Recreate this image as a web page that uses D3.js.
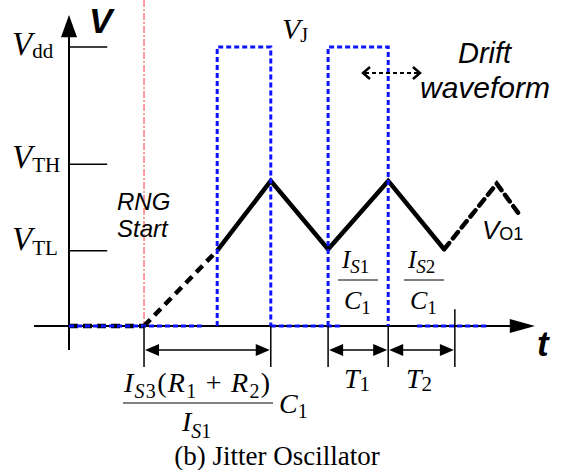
<!DOCTYPE html>
<html>
<head>
<meta charset="utf-8">
<script src="https://cdn.jsdelivr.net/npm/d3@7"></script>
<style>
body{margin:0;background:#fff}
text{fill:#000}
</style>
</head>
<body>
<svg id="chart" width="563" height="470"></svg>
<script>
// voltage levels (Vdd = 1)
const levelNames=["V","V","V"];
const levelSubs=["dd","TH","TL"];
const levelValues=[1,0.58,0.27];

// VO1 waveform, time in arbitrary units (0 = V axis)
const flatT=[0,16.1],flatV=[0,0];
const riseT=[16.1,31.8],riseV=[0,0.27];
const solidT=[31.8,43.3,55.6,68.5,80.5];
const solidV=[0.27,0.52,0.275,0.52,0.275];
const tailT=[80.5,91.8,96.4];
const tailV=[0.275,0.51,0.405];

// VJ pulses (high intervals) and blue stretches on the baseline
const pulseStart=[31.8,55.6];
const pulseEnd=[43.3,68.5];
const blueStart=[0,43.3,74.7];
const blueEnd=[28.5,58.2,90];

// dimension arrows under the t axis
const dimFrom=[16.1,55.6,68.5];
const dimTo=[43.3,68.5,82.8];
const startT=16.1;

let svg=d3.select("#chart");
let x=d3.scaleLinear().domain([0,100]).range([69,535]);
let y=d3.scaleLinear().domain([0,1]).range([326,47]);
let line=d3.line().x(d=>x(d[0])).y(d=>y(d[1]));
const zip=(a,b)=>a.map((d,i)=>[d,b[i]]);

// RNG start marker (red dash dot)
svg.append("line")
	.attr("x1",x(startT)).attr("x2",x(startT))
	.attr("y1",0).attr("y2",y(0))
	.attr("stroke","#ff3b3b").attr("stroke-width",1)
	.attr("stroke-dasharray","7,2,2,2")

// axes
svg.append("line").attr("x1",x(-7.5)).attr("x2",x(96)).attr("y1",y(0)).attr("y2",y(0))
	.attr("stroke","#000").attr("stroke-width",2)
svg.append("path")
	.attr("d",`M${x(100)},${y(0)} L${x(94.6)},${y(0)-7} L${x(94.6)},${y(0)+7} Z`)
	.attr("fill","#000")
svg.append("line").attr("x1",x(0)).attr("x2",x(0)).attr("y1",y(-0.086)).attr("y2",y(1.04))
	.attr("stroke","#000").attr("stroke-width",2)
svg.append("path")
	.attr("d",`M${x(0)},${y(1.115)} L${x(0)-8},${y(1.035)} L${x(0)+8},${y(1.035)} Z`)
	.attr("fill","#000")

// level ticks
svg.selectAll(".lvl").data(levelValues).enter().append("line")
	.attr("x1",x(0)).attr("x2",x(8.2))
	.attr("y1",d=>y(d)).attr("y2",d=>y(d))
	.attr("stroke","#000").attr("stroke-width",1.5)

// VO1 waveform
svg.append("path").attr("d",line(zip(flatT,flatV)))
	.attr("fill","none").attr("stroke","#000").attr("stroke-width",4.5)
	.attr("stroke-dasharray","9,5")
svg.append("path").attr("d",line(zip(riseT,riseV)))
	.attr("fill","none").attr("stroke","#000").attr("stroke-width",4.5)
	.attr("stroke-dasharray","9,6")
svg.append("path").attr("d",line(zip(solidT,solidV)))
	.attr("fill","none").attr("stroke","#000").attr("stroke-width",4.5)
svg.append("path").attr("d",line(zip(tailT,tailV)))
	.attr("fill","none").attr("stroke","#000").attr("stroke-width",4.5)
	.attr("stroke-dasharray","8,6").attr("stroke-linecap","round")

// blue VJ waveform, drawn on top
let blue="#0a14ff";
pulseStart.forEach((s,i)=>{
	svg.append("path")
		.attr("d",line([[s,0],[s,1],[pulseEnd[i],1],[pulseEnd[i],0]]))
		.attr("fill","none").attr("stroke",blue).attr("stroke-width",3)
		.attr("stroke-dasharray","5,3")
})
blueStart.forEach((s,i)=>{
	svg.append("path").attr("d",line([[s,0],[blueEnd[i],0]]))
		.attr("fill","none").attr("stroke",blue).attr("stroke-width",3)
		.attr("stroke-dasharray","5,3")
})

// dimension ticks and arrows
let ticks=Array.from(new Set(dimFrom.concat(dimTo)))
svg.selectAll(".dt").data(ticks).enter().append("line")
	.attr("x1",d=>x(d)).attr("x2",d=>x(d))
	.attr("y1",(d,i)=>i==ticks.length-1?y(0.06):y(0)).attr("y2",367)
	.attr("stroke","#000").attr("stroke-width",1.5)
let dy=350
dimFrom.forEach((a,i)=>{
	let x0=x(a)+1,x1=x(dimTo[i])-1
	svg.append("line").attr("x1",x0+10).attr("x2",x1-10).attr("y1",dy).attr("y2",dy)
		.attr("stroke","#000").attr("stroke-width",1.5)
	svg.append("path").attr("d",`M${x0},${dy} L${x0+14},${dy-6} L${x0+14},${dy+6} Z`)
	svg.append("path").attr("d",`M${x1},${dy} L${x1-14},${dy-6} L${x1-14},${dy+6} Z`)
})

// drift arrow (dotted, open heads)
let dr=[363,420],dry=73
svg.append("line").attr("x1",dr[0]+2).attr("x2",dr[1]-2).attr("y1",dry).attr("y2",dry)
	.attr("stroke","#000").attr("stroke-width",2).attr("stroke-dasharray","4,3")
svg.append("path").attr("d",`M${dr[0]+7},${dry-6} L${dr[0]},${dry} L${dr[0]+7},${dry+6}`)
	.attr("fill","none").attr("stroke","#000").attr("stroke-width",2.5)
svg.append("path").attr("d",`M${dr[1]-7},${dry-6} L${dr[1]},${dry} L${dr[1]-7},${dry+6}`)
	.attr("fill","none").attr("stroke","#000").attr("stroke-width",2.5)

// text helpers
const serif="'Liberation Serif','Times New Roman',serif"
const sans="'Liberation Sans',Arial,sans-serif"
function label(px,py,parts,anchor){
	let t=svg.append("text").attr("x",px).attr("y",py)
		.attr("text-anchor",anchor||"start")
	parts.forEach(p=>{
		t.append("tspan").text(p[0])
			.attr("font-family",p[4]||serif)
			.attr("font-size",p[1])
			.attr("font-style",p[2]?"italic":"normal")
			.attr("dy",p[3]||0)
	})
	return t
}

// level labels
let lvlBase=[55,168,250],subDrop=[3,4,5]
levelValues.forEach((v,i)=>{
	label(12,lvlBase[i],[[levelNames[i],33,1],[levelSubs[i],21,0,subDrop[i]]])
})

// axis titles
svg.append("text").attr("x",89).attr("y",33).text("V")
	.attr("font-family",sans).attr("font-size",35).attr("font-weight","bold").attr("font-style","italic")
svg.append("text").attr("x",537).attr("y",356).text("t")
	.attr("font-family",sans).attr("font-size",35).attr("font-weight","bold").attr("font-style","italic")

label(282,39,[["V",30,1],["J",20,0,3]])
label(458,63,[["Drift",29,1,0,sans]])
label(420,98,[["waveform",30,1,0,sans]])
label(117,210,[["RNG",24,1,0,sans]])
label(117,237,[["Start",24,1,0,sans]])
label(482,239,[["V",26,1,0,sans],["O1",18,0,1,sans]])

// slope fractions
function frac(px,sub){
	label(px,268,[["I",25,1],["S",19,1,5],[sub,19,0]])
	svg.append("line").attr("x1",px-4).attr("x2",px+36).attr("y1",280).attr("y2",280)
		.attr("stroke","#000").attr("stroke-width",1)
	label(px+2,309,[["C",26,1],["1",19,0,5]])
}
frac(342,"1")
frac(408,"2")

label(344,388,[["T",28,1],["1",21,0,3]])
label(406,388,[["T",28,1],["2",21,0,3]])

// start delay
label(124,392,[["I",28,1],["S",20,1,6],["3",20,0],["(",28,0,-6],["R",28,1],["1",20,0,6],
	[" + ",28,0,-6],["R",28,1],["2",20,0,6],[")",28,0,-6]])
	.attr("textLength",146).attr("lengthAdjust","spacing")
svg.append("line").attr("x1",123).attr("x2",273).attr("y1",403).attr("y2",403)
	.attr("stroke","#000").attr("stroke-width",1)
label(182,431,[["I",28,1],["S",20,1,7],["1",20,0]])
label(279,413,[["C",28,1],["1",20,0,5]])

label(277,465,[["(b) Jitter Oscillator",27,0]],"middle")
</script>
</body>
</html>
